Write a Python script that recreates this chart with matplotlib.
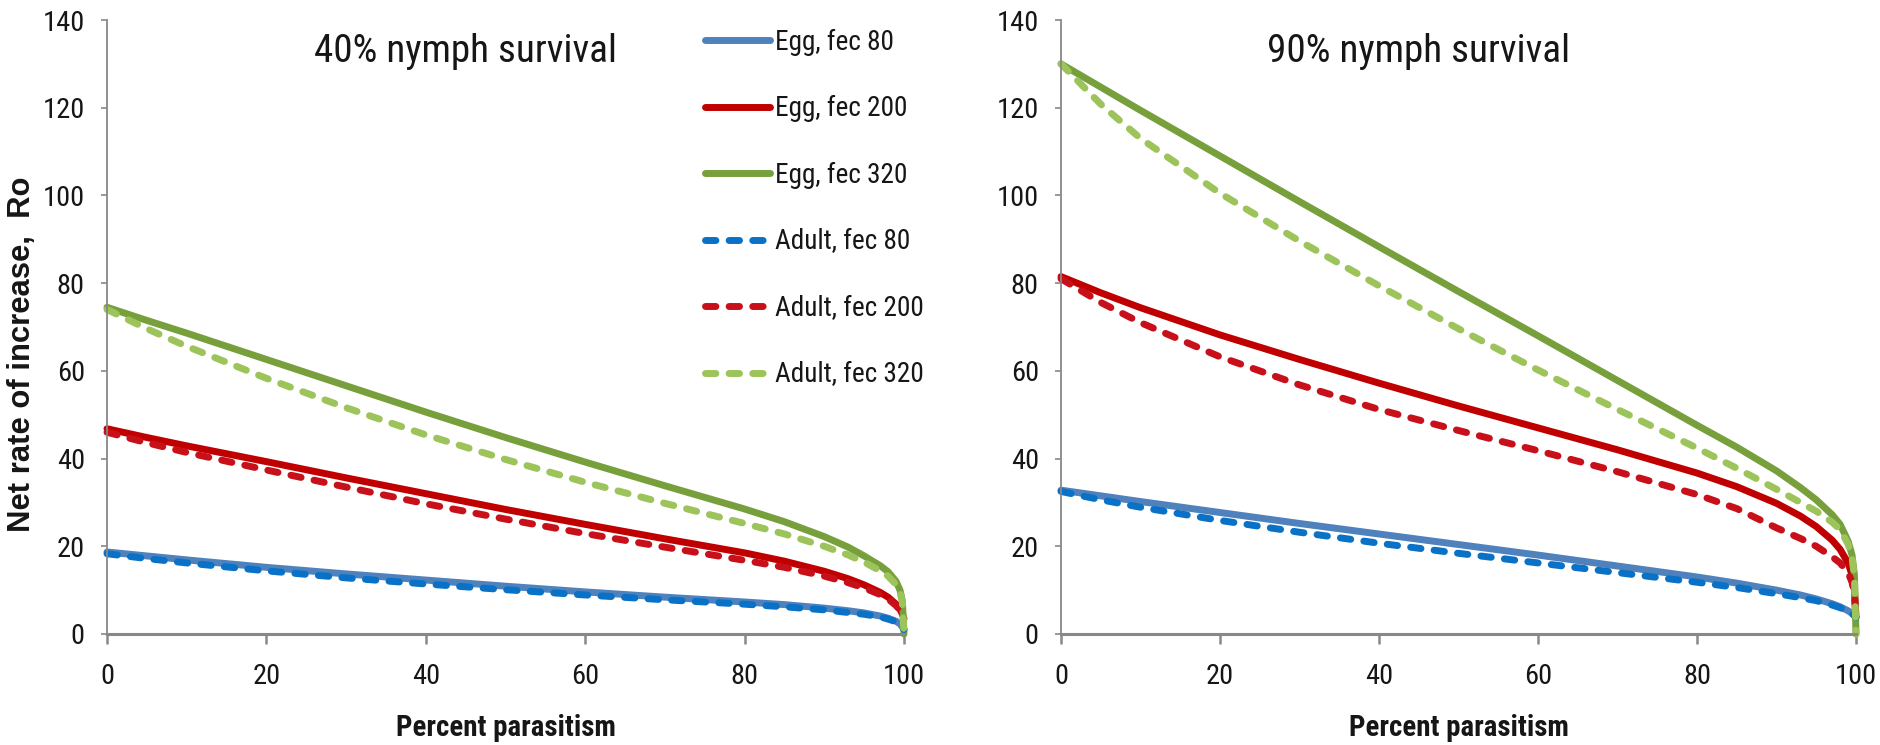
import os
import matplotlib
matplotlib.use("Agg")
import matplotlib.pyplot as plt
from matplotlib.font_manager import FontProperties, fontManager

# percent parasitism
pct = [0, 5, 10, 20, 30, 40, 50, 60, 70, 80, 85, 90, 93, 95, 97, 98, 99, 99.5, 99.8, 100]

# 40% nymph survival
egg80_40 = [18.7, 17.8, 16.9, 15.2, 13.7, 12.3, 10.9, 9.6, 8.4, 7.3, 6.7, 5.9, 5.3, 4.8, 4.1, 3.6, 2.9, 2.3, 1.6, 1.0]
egg200_40 = [46.8, 44.8, 42.9, 39.3, 35.6, 32.0, 28.4, 25.0, 21.7, 18.5, 16.6, 14.3, 12.6, 11.2, 9.5, 8.4, 6.8, 5.6, 4.5, 3.5]
egg320_40 = [74.5, 71.5, 68.6, 62.6, 56.6, 50.6, 44.8, 39.2, 33.8, 28.5, 25.6, 22.2, 19.8, 17.8, 15.6, 14.2, 12.0, 10.0, 7.5, 0.0]
adu80_40 = [18.3, 17.2, 16.2, 14.4, 12.8, 11.4, 10.1, 8.9, 7.8, 6.8, 6.2, 5.5, 4.9, 4.5, 3.9, 3.4, 2.8, 2.2, 1.6, 1.0]
adu200_40 = [46.0, 43.6, 41.4, 37.4, 33.5, 29.7, 26.2, 22.9, 19.8, 16.8, 15.2, 13.2, 11.7, 10.5, 9.0, 8.0, 6.5, 5.4, 4.4, 3.5]
adu320_40 = [74.0, 69.6, 65.6, 58.3, 51.6, 45.4, 39.8, 34.6, 29.8, 25.2, 22.8, 20.0, 18.0, 16.4, 14.4, 13.2, 11.3, 9.6, 7.2, 0.0]

# 90% nymph survival
egg80_90 = [32.8, 31.5, 30.2, 27.7, 25.2, 22.8, 20.4, 18.0, 15.5, 13.0, 11.6, 10.0, 8.9, 8.0, 6.9, 6.2, 5.3, 4.7, 4.2, 3.8]
egg200_90 = [81.5, 77.8, 74.4, 68.2, 62.6, 57.2, 52.0, 47.0, 42.0, 36.7, 33.6, 29.8, 26.9, 24.5, 21.4, 19.3, 16.2, 13.5, 10.0, 4.0]
egg320_90 = [130.0, 124.7, 119.4, 109.0, 98.6, 88.3, 78.1, 68.0, 57.8, 47.6, 42.6, 37.2, 33.4, 30.6, 27.2, 25.0, 21.2, 18.0, 13.5, 0.0]
adu80_90 = [32.5, 30.6, 28.9, 25.9, 23.2, 20.7, 18.4, 16.2, 14.0, 11.8, 10.6, 9.2, 8.3, 7.6, 6.6, 6.0, 5.2, 4.6, 4.2, 3.8]
adu200_90 = [81.0, 75.6, 71.0, 63.2, 56.8, 51.2, 46.4, 41.8, 37.0, 31.8, 28.6, 24.2, 21.8, 20.0, 17.6, 16.2, 14.0, 11.8, 9.0, 4.0]
adu320_90 = [130.0, 120.8, 113.0, 100.5, 89.6, 79.4, 69.6, 60.2, 51.2, 42.4, 37.8, 33.0, 30.0, 28.0, 25.5, 23.8, 20.5, 17.5, 13.0, 0.0]

labels = ["Egg, fec 80", "Egg, fec 200", "Egg, fec 320",
          "Adult, fec 80", "Adult, fec 200", "Adult, fec 320"]
colors = ["#4F81BD", "#C00000", "#77A03C", "#0A72C6", "#C8101A", "#9DC45A"]
styles = ["-", "-", "-", "--", "--", "--"]

panels = [
    ("40% nymph survival", [egg80_40, egg200_40, egg320_40, adu80_40, adu200_40, adu320_40]),
    ("90% nymph survival", [egg80_90, egg200_90, egg320_90, adu80_90, adu200_90, adu320_90]),
]


def pick(files, family, weight):
    # first narrow face found on disk, else a plain one
    have = {os.path.basename(f.fname).lower(): f.fname for f in fontManager.ttflist}
    for name in files:
        if name.lower() in have:
            return FontProperties(fname=have[name.lower()])
    return FontProperties(family=family, weight=weight)


narrow = pick(["LiberationSansNarrow-Regular.ttf", "arialn.ttf", "ArialNarrow.ttf",
               "NotoSans-Condensed.ttf", "RobotoCondensed-Regular.ttf",
               "OpenSans-CondensedRegular.ttf", "DejaVuSansCondensed.ttf"],
              "Liberation Sans", "normal")
narrow_b = pick(["LiberationSansNarrow-Bold.ttf", "arialnb.ttf", "ArialNarrow-Bold.ttf",
                 "NotoSans-CondensedBold.ttf", "RobotoCondensed-Bold.ttf",
                 "OpenSans-CondBold.ttf", "DejaVuSansCondensed-Bold.ttf"],
                "Liberation Sans", "bold")
wide_b = FontProperties(family="Liberation Sans", weight="bold")

W, H = 1881, 745
fig = plt.figure(figsize=(W / 100, H / 100), dpi=100)
rend = fig.canvas.get_renderer()


def fit(s, fp, px):
    # font size (pt) that makes string s about px pixels wide
    t = fig.text(0, 0, s, fontproperties=fp, size=20)
    w = t.get_window_extent(rend).width
    t.remove()
    return 20 * px / w


fs_title = fit("40% nymph survival", narrow, 303)
fs_leg = fit("Adult, fec 320", narrow, 149)
fs_tick = min(fit("100", narrow, 39) * 1.08, 24)
fs_xlab = fit("Percent parasitism", narrow_b, 219)
fs_ylab = fit("Net rate of increase,  Ro", wide_b, 355)

leg_fp = narrow.copy()
leg_fp.set_size(fs_leg)
leg_px = fs_leg * 100 / 72

boxes = [[107 / W, 1 - 634 / H, 797 / W, 614 / H],
         [1061 / W, 1 - 634 / H, 795 / W, 614 / H]]

grey = "#888888"
txt = "#161616"
axes = []

for i, (title, series) in enumerate(panels):
    ax = fig.add_axes(boxes[i])
    axes.append(ax)
    for y, lab, c, ls in zip(series, labels, colors, styles):
        line, = ax.plot(pct, y, ls, color=c, lw=5, label=lab,
                        solid_capstyle="round", clip_on=False)
        if ls == "--":
            line.set_dashes((1.5, 1.9))
            line.set_dash_capstyle("round")
    ax.set_xlim(0, 100)
    ax.set_ylim(0, 140)
    ax.set_xticks(range(0, 101, 20))
    ax.set_yticks(range(0, 141, 20))
    for s in ("top", "right"):
        ax.spines[s].set_visible(False)
    ax.spines["left"].set_color(grey)
    ax.spines["left"].set_linewidth(1.3)
    ax.spines["bottom"].set_color(grey)
    ax.spines["bottom"].set_linewidth(2.2)
    ax.tick_params(axis="y", direction="out", length=4, width=1.2, color=grey, pad=12)
    ax.tick_params(axis="x", direction="out", length=7, width=1.8, color=grey, pad=14)
    for t in ax.get_xticklabels() + ax.get_yticklabels():
        t.set_fontproperties(narrow)
        t.set_fontsize(fs_tick)
        t.set_color(txt)
    ax.text(45, 130.4, title, ha="center", va="baseline", fontproperties=narrow,
            size=fs_title, color=txt)
    ax.text(50, -23.3, "Percent parasitism", ha="center", va="baseline",
            fontproperties=narrow_b, size=fs_xlab, color=txt, clip_on=False)

fig.text(22 / W, 1 - 354 / H, "Net rate of increase,  Ro", rotation=90,
         ha="center", va="center", fontproperties=wide_b, size=fs_ylab, color=txt)


def make_legend(spacing, top):
    return axes[0].legend(loc="upper left", bbox_to_anchor=(705 / W, top),
                          bbox_transform=fig.transFigure, frameon=False,
                          prop=leg_fp, handlelength=65 / leg_px, handletextpad=0.2,
                          labelspacing=spacing, borderpad=0, borderaxespad=0)


def row_centers(leg):
    fig.canvas.draw()
    out = []
    for t in leg.get_texts():
        bb = t.get_window_extent(rend)
        out.append((bb.y0 + bb.y1) / 2)
    return out


# rows in the original sit 66.6 px apart, the first one 42 px from the top
spacing, top = 1.0, 1 - 20 / H
leg = make_legend(spacing, top)
c = row_centers(leg)
spacing += (333 - (c[0] - c[-1])) / (5 * leg_px)
leg.remove()
leg = make_legend(spacing, top)
c = row_centers(leg)
top += ((H - 42) - c[0]) / H
leg.remove()
leg = make_legend(spacing, top)
for t in leg.get_texts():
    t.set_color(txt)

fig.savefig("out.png", dpi=100, facecolor="white")
